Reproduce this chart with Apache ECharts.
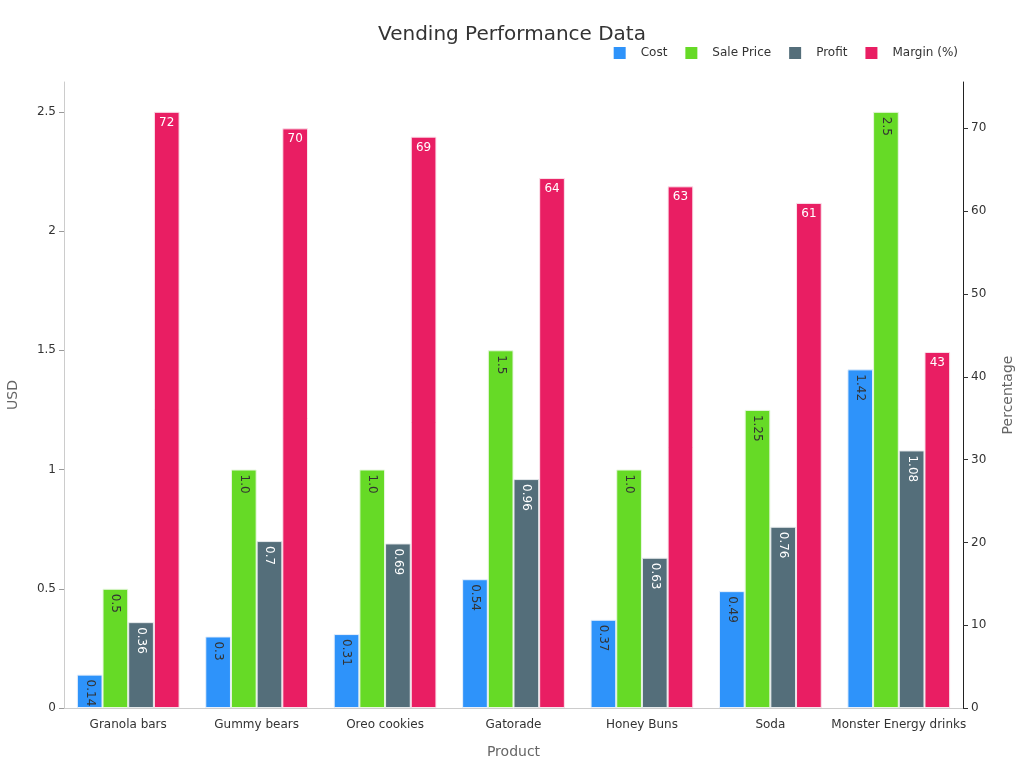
<!DOCTYPE html>
<html><head><meta charset="utf-8">
<script src="https://cdn.jsdelivr.net/npm/echarts@6/dist/echarts.min.js"></script>
<style>html,body{margin:0;padding:0;background:#fff}#c{width:1024px;height:768px}</style>
</head><body><div id="c"></div>
<script>
const categories = ['Granola bars','Gummy bears','Oreo cookies','Gatorade','Honey Buns','Soda','Monster Energy drinks'];
const cost = [0.14, 0.3, 0.31, 0.54, 0.37, 0.49, 1.42];
const salePrice = [0.5, 1.0, 1.0, 1.5, 1.0, 1.25, 2.5];
const profit = [0.36, 0.7, 0.69, 0.96, 0.63, 0.76, 1.08];
const margin = [72, 70, 69, 64, 63, 61, 43];
const saleLabels = ['0.5','1.0','1.0','1.5','1.0','1.25','2.5'];

const font = 'DejaVu Sans';
const chart = echarts.init(document.getElementById('c'), null, {renderer:'canvas'});
function rotLabel(color, fmt){
  return {show:true, position:'insideTop', rotate:-90, align:'left', verticalAlign:'middle', distance:5,
    color:color, fontSize:12, fontFamily:font, formatter: fmt || (p=>String(p.value))};
}
chart.setOption({
  animation:false,
  textStyle:{fontFamily:font},
  title:{text:'Vending Performance Data', left:'center', top:20, textStyle:{fontSize:20, fontWeight:'normal', color:'#333', fontFamily:font}},
  legend:{top:42, right:61, itemWidth:12, itemHeight:12, itemGap:18, icon:'rect',
    itemStyle:{borderWidth:0},
    textStyle:{fontSize:12, color:'#333', fontFamily:font, padding:[0,0,0,10]}},
  grid:{left:64, right:61, top:82, bottom:60, containLabel:false, outerBoundsMode:'none'},
  xAxis:{type:'category', data:categories, name:'Product', nameLocation:'middle', nameGap:37,
    nameTextStyle:{fontSize:14, color:'#666'},
    axisLine:{lineStyle:{color:'#ccc'}}, axisTick:{alignWithLabel:true, lineStyle:{color:'#999'}},
    axisLabel:{color:'#333', fontSize:12, interval:0, margin:11}},
  yAxis:[
    {type:'value', name:'USD', nameLocation:'middle', nameGap:44, nameTextStyle:{fontSize:14, color:'#666'},
     min:0, max:2.625, interval:0.5,
     axisLine:{show:true, lineStyle:{color:'#ccc'}}, axisTick:{show:true, lineStyle:{color:'#999'}},
     splitLine:{show:false}, axisLabel:{color:'#333', fontSize:12, showMaxLabel:false}},
    {type:'value', name:'Percentage', nameLocation:'middle', nameGap:38, nameTextStyle:{fontSize:14, color:'#666'},
     min:0, max:75.6, interval:10,
     axisLine:{show:true, lineStyle:{color:'#222'}}, axisTick:{show:true, lineStyle:{color:'#333'}},
     splitLine:{show:false}, axisLabel:{color:'#333', fontSize:12, showMaxLabel:false}}
  ],
  series:[
    {name:'Cost', type:'bar', data:cost, barGap:'0%', barCategoryGap:'20%',
     itemStyle:{color:'#2E93FA', borderColor:'#e8f0fb', borderWidth:1}, label:rotLabel('#333')},
    {name:'Sale Price', type:'bar', data:salePrice,
     itemStyle:{color:'#66DA26', borderColor:'#e8f7e0', borderWidth:1}, label:rotLabel('#333', p=>saleLabels[p.dataIndex])},
    {name:'Profit', type:'bar', data:profit,
     itemStyle:{color:'#546E7A', borderColor:'#e6eaec', borderWidth:1}, label:rotLabel('#fff')},
    {name:'Margin (%)', type:'bar', data:margin, yAxisIndex:1,
     itemStyle:{color:'#E91E63', borderColor:'#fbe3ec', borderWidth:1},
     label:{show:true, position:'insideTop', distance:5, color:'#fff', fontSize:12, fontFamily:font}}
  ]
});
</script></body></html>
